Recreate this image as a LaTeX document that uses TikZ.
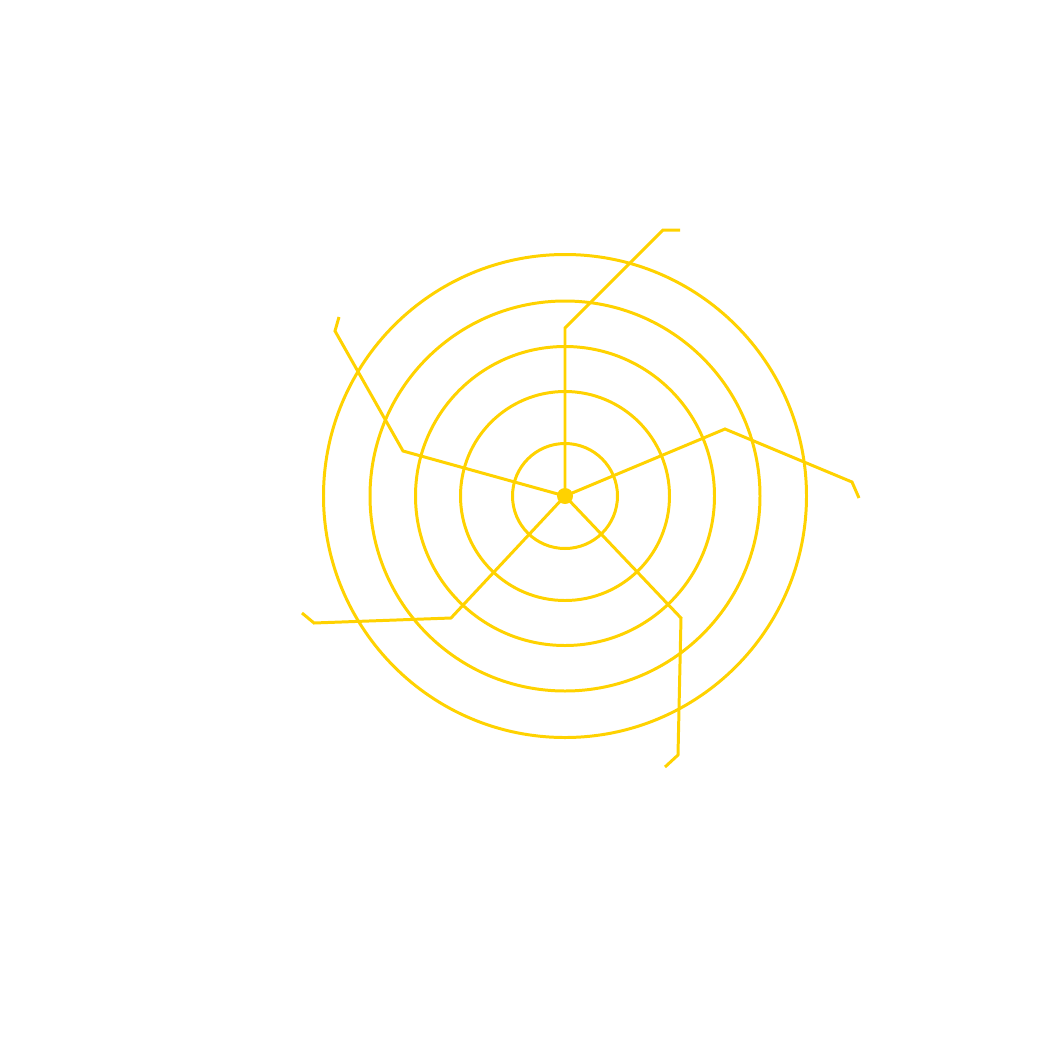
\documentclass[tikz,border=0pt]{standalone}
\definecolor{gold}{HTML}{FFD200}
\begin{document}
\begin{tikzpicture}[x=0.01cm,y=-0.01cm,line width=0.85pt,
  ring/.style={draw=gold},
  spoke/.style={draw=gold,line join=miter}]
\useasboundingbox (0,0) rectangle (1042,1042);
\coordinate (c) at (565,496);
\foreach \r in {52.5,104.5,149.5,195,241.5} \draw[ring] (c) circle[radius=\r];
\coordinate (a1) at (565,328); \coordinate (a2) at (663,230); \coordinate (a3) at (680,230);
\coordinate (b1) at (725,429); \coordinate (b2) at (852,482); \coordinate (b3) at (859,498);
\coordinate (d1) at (681,618); \coordinate (d2) at (678,755); \coordinate (d3) at (665,767);
\coordinate (e1) at (451,618); \coordinate (e2) at (314,623); \coordinate (e3) at (302,613);
\coordinate (f1) at (403,451); \coordinate (f2) at (335,331); \coordinate (f3) at (339,317);
\draw[spoke] (c) -- (a1) -- (a2) -- (a3);
\draw[spoke] (c) -- (b1) -- (b2) -- (b3);
\draw[spoke] (c) -- (d1) -- (d2) -- (d3);
\draw[spoke] (c) -- (e1) -- (e2) -- (e3);
\draw[spoke] (c) -- (f1) -- (f2) -- (f3);
\fill[gold] (c) circle[radius=8];
\end{tikzpicture}
\end{document}
